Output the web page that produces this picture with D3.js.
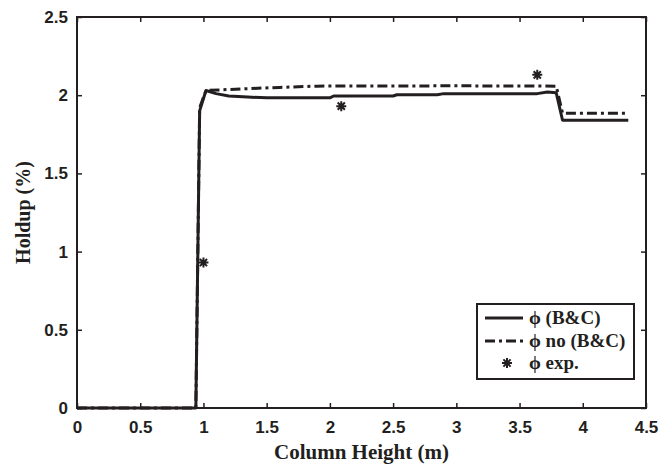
<!DOCTYPE html>
<html>
<head>
<meta charset="utf-8">
<script src="https://cdn.jsdelivr.net/npm/d3@7"></script>
<style>
  body { margin: 0; background: #fff; }
  .tick text { font-family: "Liberation Sans", Arial, sans-serif; font-weight: bold; font-size: 17px; fill: #231f20; }
  .title { font-family: "Liberation Serif", "Times New Roman", serif; font-weight: bold; font-size: 21px; fill: #231f20; }
  .leg { font-family: "Liberation Serif", "Times New Roman", serif; font-weight: bold; font-size: 19px; fill: #231f20; }
</style>
</head>
<body>
<script>
// données
var bcX = [0, 0.94, 0.97, 1.02, 1.1, 1.2, 1.35, 1.5, 2.0, 2.03, 2.5, 2.53, 2.85, 2.9, 3.64, 3.72, 3.79, 3.84, 4.36];
var bcY = [0, 0, 1.90, 2.03, 2.01, 1.995, 1.988, 1.983, 1.983, 1.995, 1.995, 2.003, 2.003, 2.01, 2.01, 2.02, 2.015, 1.84, 1.84];

var noX = [0, 0.94, 0.97, 1.02, 1.3, 1.6, 1.9, 3.0, 3.79, 3.84, 4.34];
var noY = [0, 0, 1.92, 2.03, 2.04, 2.05, 2.058, 2.06, 2.058, 1.885, 1.885];

var expX = [1.0, 2.09, 3.64];
var expY = [0.93, 1.93, 2.13];

var xTicks = [0, 0.5, 1, 1.5, 2, 2.5, 3, 3.5, 4, 4.5];
var yTicks = [0, 0.5, 1, 1.5, 2, 2.5];

var legendLabels = ["\u03D5 (B&C)", "\u03D5 no (B&C)", "\u03D5 exp."];

var W = 661, H = 471;
var mLeft = 77, mTop = 17, mRight = 646, mBottom = 408;
var ink = "#231f20";

var svg = d3.select("body").append("svg")
  .attr("width", W)
  .attr("height", H);

var x = d3.scaleLinear().domain([0, 4.5]).range([mLeft, mRight]);
var y = d3.scaleLinear().domain([0, 2.5]).range([mBottom, mTop]);

// axes (ticks vers l'intérieur)
var fmt = function(d) { return d3.format("")(d); };
function styleTicks(g) {
  g.select(".domain").remove();
  g.selectAll("line").attr("stroke", ink).attr("stroke-width", 1.5);
}

svg.append("g")
  .attr("transform", "translate(0," + mBottom + ")")
  .call(d3.axisBottom(x).tickValues(xTicks).tickFormat(fmt).tickSizeInner(-5).tickSizeOuter(0).tickPadding(13))
  .call(styleTicks);

svg.append("g")
  .attr("transform", "translate(0," + mTop + ")")
  .call(d3.axisTop(x).tickValues(xTicks).tickFormat("").tickSizeInner(-5).tickSizeOuter(0))
  .call(styleTicks);

svg.append("g")
  .attr("transform", "translate(" + mLeft + ",0)")
  .call(d3.axisLeft(y).tickValues(yTicks).tickFormat(fmt).tickSizeInner(-5).tickSizeOuter(0).tickPadding(9))
  .call(styleTicks);

svg.append("g")
  .attr("transform", "translate(" + mRight + ",0)")
  .call(d3.axisRight(y).tickValues(yTicks).tickFormat("").tickSizeInner(-5).tickSizeOuter(0))
  .call(styleTicks);

svg.append("rect")
  .attr("x", mLeft).attr("y", mTop)
  .attr("width", mRight - mLeft).attr("height", mBottom - mTop)
  .attr("fill", "none").attr("stroke", ink).attr("stroke-width", 2);

// courbes
var line = d3.line()
  .x(function(d) { return x(d[0]); })
  .y(function(d) { return y(d[1]); });

var noData = d3.zip(noX, noY);
var bcData = d3.zip(bcX, bcY);

svg.append("path")
  .attr("d", line(noData))
  .attr("fill", "none").attr("stroke", ink).attr("stroke-width", 3)
  .attr("stroke-dasharray", "10,4,3,4");

svg.append("path")
  .attr("d", line(bcData))
  .attr("fill", "none").attr("stroke", ink).attr("stroke-width", 3)
  .attr("stroke-linejoin", "round");

// étoiles expérimentales
function star(cx, cy, r) {
  var p = d3.path();
  p.moveTo(cx - r, cy); p.lineTo(cx + r, cy);
  p.moveTo(cx, cy - r); p.lineTo(cx, cy + r);
  var k = r * 0.72;
  p.moveTo(cx - k, cy - k); p.lineTo(cx + k, cy + k);
  p.moveTo(cx - k, cy + k); p.lineTo(cx + k, cy - k);
  return p.toString();
}

svg.selectAll(".exp")
  .data(d3.zip(expX, expY))
  .enter().append("path")
  .attr("class", "exp")
  .attr("d", function(d) { return star(x(d[0]), y(d[1]), 5); })
  .attr("stroke", ink).attr("stroke-width", 2);

// titres
svg.append("text")
  .attr("class", "title")
  .attr("x", (mLeft + mRight) / 2).attr("y", 459)
  .attr("text-anchor", "middle")
  .text("Column Height (m)");

svg.append("text")
  .attr("class", "title")
  .style("font-size", "20px")
  .attr("transform", "translate(30," + ((mTop + mBottom) / 2) + ") rotate(-90)")
  .attr("text-anchor", "middle")
  .text("Holdup (%)");

// légende
var lg = svg.append("g");
lg.append("rect")
  .attr("x", 477).attr("y", 304)
  .attr("width", 157).attr("height", 75)
  .attr("fill", "#fff").attr("stroke", ink).attr("stroke-width", 2);

var rowY = [318, 341, 363];
lg.append("line")
  .attr("x1", 485).attr("x2", 523).attr("y1", rowY[0]).attr("y2", rowY[0])
  .attr("stroke", ink).attr("stroke-width", 3);
lg.append("line")
  .attr("x1", 485).attr("x2", 523).attr("y1", rowY[1]).attr("y2", rowY[1])
  .attr("stroke", ink).attr("stroke-width", 3).attr("stroke-dasharray", "10,4,3,4");
lg.append("path")
  .attr("d", star(507, rowY[2], 5))
  .attr("stroke", ink).attr("stroke-width", 2);

lg.selectAll(".leg")
  .data(legendLabels)
  .enter().append("text")
  .attr("class", "leg")
  .attr("x", 529)
  .attr("y", function(d, i) { return rowY[i] + 6; })
  .text(function(d) { return d; });
</script>
</body>
</html>
